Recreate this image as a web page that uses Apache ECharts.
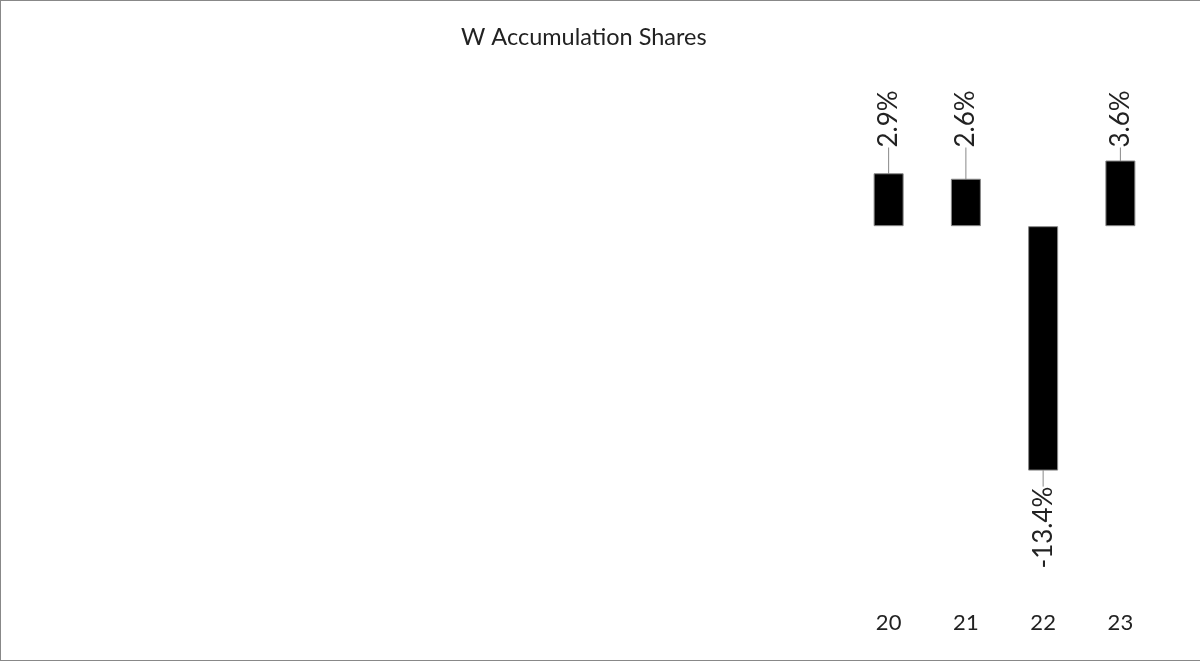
<!DOCTYPE html>
<html>
<head>
<meta charset="utf-8">
<script src="https://cdn.jsdelivr.net/npm/echarts@6/dist/echarts.min.js"></script>
<style>
  html, body { margin: 0; padding: 0; background: #fff; }
  #chart {
    width: 1200px; height: 661px; box-sizing: border-box;
    border-left: 1px solid #888; border-top: 1px solid #888; border-bottom: 1px solid #888;
  }
</style>
</head>
<body>
<div id="chart"></div>
<script>
  var categories = ['20', '21', '22', '23'];
  var values = [2.9, 2.6, -13.4, 3.6];

  var chart = echarts.init(document.getElementById('chart'));
  var maxVal = Math.max.apply(null, values);

  var option = {
    animation: false,
    title: {
      text: 'W Accumulation Shares',
      left: 455,
      top: 19,
      textStyle: { fontFamily: 'Lato', fontWeight: 'normal', fontSize: 23.5, color: '#222' }
    },
    grid: { left: 849, right: 41, top: 61, bottom: 69 },
    xAxis: {
      type: 'category',
      data: categories,
      position: 'bottom',
      axisLine: { show: false, onZero: false },
      axisTick: { show: false },
      axisLabel: { fontFamily: 'Lato', fontSize: 22, color: '#222', margin: 21 }
    },
    yAxis: {
      type: 'value',
      min: -20,
      max: 9,
      show: false,
      splitLine: { show: false }
    },
    series: [{
      type: 'bar',
      barWidth: 30,
      itemStyle: { color: '#000', borderColor: '#888', borderWidth: 1 },
      label: {
        show: true,
        rotate: 90,
        fontFamily: 'Lato',
        fontSize: 26,
        color: '#222',
        formatter: function (p) { return p.value.toFixed(1) + '%'; }
      },
      labelLine: { show: true, lineStyle: { color: '#888', width: 1 } },
      labelLayout: function (p) {
        var v = values[p.dataIndex];
        if (v >= 0) {
          // line up all positive labels just above the tallest bar
          var topY = chart.convertToPixel({ gridIndex: 0 }, [0, maxVal])[1];
          return { y: topY - 5 };
        }
        return { y: p.rect.y + p.rect.height + 8 };
      },
      data: values.map(function (v) {
        return {
          value: v,
          label: v >= 0
            ? { position: 'top', align: 'left', verticalAlign: 'middle', padding: [0, 0, 0, 8] }
            : { position: 'bottom', align: 'right', verticalAlign: 'middle', padding: [0, 8, 0, 0] }
        };
      })
    }]
  };

  chart.setOption(option);
</script>
</body>
</html>
